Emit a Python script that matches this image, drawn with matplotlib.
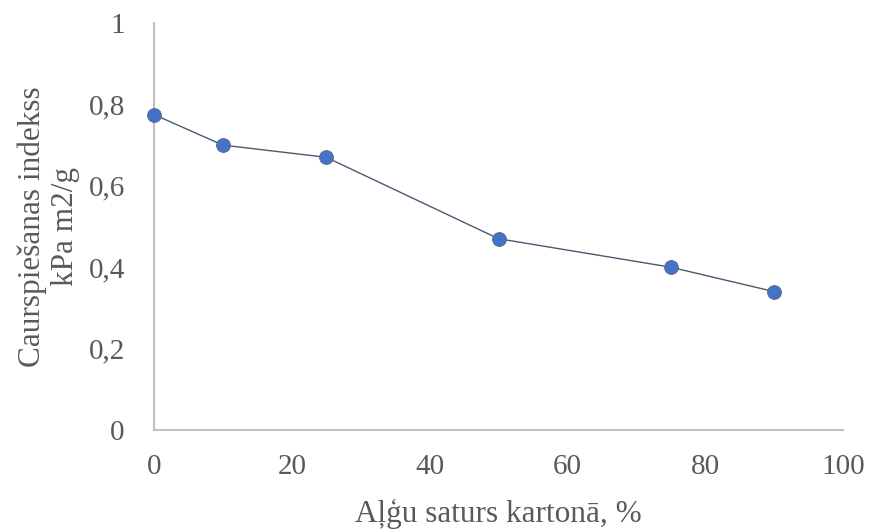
import matplotlib
matplotlib.use("Agg")
import matplotlib.pyplot as plt

# Algae content in board (%) vs burst index
algae_pct = [0, 10, 25, 50, 75, 90]
burst_index = [0.775, 0.70, 0.67, 0.47, 0.40, 0.34]

x_ticks = [0, 20, 40, 60, 80, 100]
y_ticks = [0, 0.2, 0.4, 0.6, 0.8, 1.0]
y_tick_labels = ["0", "0,2", "0,4", "0,6", "0,8", "1"]

TEXT = "#595959"
plt.rcParams["font.family"] = ["Liberation Serif", "DejaVu Serif"]

fig = plt.figure(figsize=(8.71, 5.30), dpi=100)
ax = fig.add_axes([0.1768, 0.1887, 0.7911, 0.7679])

ax.plot(algae_pct, burst_index, color="#4a5a70", linewidth=1.0,
        marker="o", markersize=10, markerfacecolor="#4472C4",
        markeredgecolor="#5a6a85", markeredgewidth=0.6, zorder=3,
        clip_on=False)

ax.set_xlim(0, 100)
ax.set_ylim(0, 1)
ax.set_xticks(x_ticks)
ax.set_yticks(y_ticks)
ax.set_yticklabels(y_tick_labels)

for side in ("top", "right"):
    ax.spines[side].set_visible(False)
for side in ("left", "bottom"):
    ax.spines[side].set_color("#BFBFBF")
    ax.spines[side].set_linewidth(1.5)

ax.tick_params(axis="both", length=0, labelsize=21, labelcolor=TEXT)
ax.tick_params(axis="y", pad=21)
ax.tick_params(axis="x", pad=17)

ax.set_xlabel("Aļģu saturs kartonā, %", fontsize=22.5, color=TEXT, labelpad=14)
ax.set_ylabel("Caurspiešanas indekss\nkPa m2/g", fontsize=22.5, color=TEXT,
              labelpad=6, linespacing=1.2)

fig.savefig("out.png", dpi=100)
